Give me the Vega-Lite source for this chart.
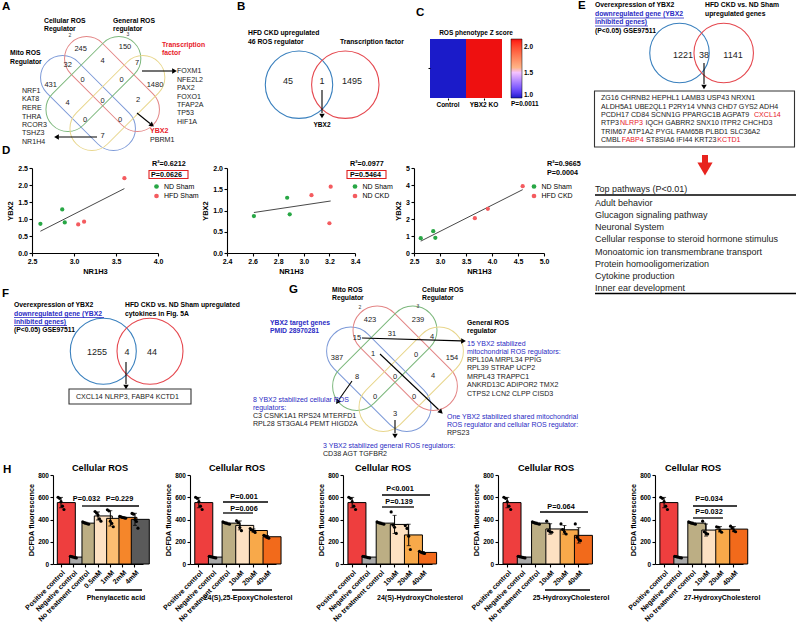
{
"$schema":"https://vega.github.io/schema/vega-lite/v6.json",
"width":796,"height":623,"autosize":{"type":"none"},"padding":0,"background":"white",
"config":{"view":{"stroke":null},"font":"Liberation Sans",
"axis":{"grid":false,"domainColor":"#000","tickColor":"#000","labelColor":"#000","titleColor":"#000","labelFont":"Liberation Sans","titleFont":"Liberation Sans","labelFontWeight":"bold","titleFontWeight":"bold","domainWidth":1.1,"tickWidth":1.1,"tickSize":3,"labelPadding":1.5,"titlePadding":3,"labelFontSize":7,"titleFontSize":7.5,"labelFlush":false,"labelOverlap":false},
"legend":{"labelFont":"Liberation Sans"}},
"datasets":{
"txt":[
{"k":"panel","x":2,"y":7,"t":"A"},{"k":"panel","x":237,"y":7,"t":"B"},{"k":"panel","x":416,"y":13,"t":"C"},{"k":"panel","x":2,"y":151,"t":"D"},{"k":"panel","x":578,"y":6,"t":"E"},{"k":"panel","x":2,"y":294,"t":"F"},{"k":"panel","x":289,"y":290,"t":"G"},{"k":"panel","x":3,"y":470,"t":"H"},
{"k":"hd","x":44,"y":21,"t":"Cellular ROS"},{"k":"hd","x":44,"y":29,"t":"Regulator"},{"k":"hd","x":113,"y":21,"t":"General ROS"},{"k":"hd","x":113,"y":29,"t":"regulator"},{"k":"hd","x":10,"y":53,"t":"Mito ROS"},{"k":"hd","x":10,"y":62,"t":"Regulator"},
{"k":"hd","x":248,"y":33,"t":"HFD CKD upregulated"},{"k":"hd","x":248,"y":42,"t":"46 ROS regulator"},{"k":"hd","x":340,"y":42,"t":"Transcription factor"},
{"k":"hd","x":595,"y":5,"t":"Overexpression of YBX2"},{"k":"hd","x":595,"y":31,"t":"(P<0.05) GSE97511"},{"k":"hd","x":705,"y":5,"t":"HFD CKD vs. ND Sham"},{"k":"hd","x":705,"y":14,"t":"upregulated genes"},
{"k":"hd","x":14,"y":305,"t":"Overexpression of YBX2"},{"k":"hd","x":14,"y":330,"t":"(P<0.05) GSE97511"},{"k":"hd","x":125,"y":305,"t":"HFD CKD vs. ND Sham upregulated"},{"k":"hd","x":125,"y":313.5,"t":"cytokines in Fig. 5A"},
{"k":"hd","x":332,"y":290,"t":"Mito ROS"},{"k":"hd","x":332,"y":298,"t":"Regulator"},{"k":"hd","x":422,"y":290,"t":"Cellular ROS"},{"k":"hd","x":422,"y":298,"t":"Regulator"},{"k":"hd","x":467,"y":323,"t":"General ROS"},{"k":"hd","x":467,"y":331,"t":"regulator"},
{"k":"hdred","x":162,"y":45,"t":"Transcription"},{"k":"hdred","x":162,"y":53,"t":"factor"},
{"k":"hdblue","x":595,"y":14,"t":"downregulated gene (YBX2"},{"k":"hdblue","x":595,"y":22,"t":"inhibited genes)"},{"k":"hdblue","x":14,"y":313.5,"t":"downregulated gene (YBX2"},{"k":"hdblue","x":14,"y":321.5,"t":"inhibited genes)"},{"k":"hdblue","x":270,"y":323,"t":"YBX2 target genes"},{"k":"hdblue","x":270,"y":331,"t":"PMID 28970281"},
{"k":"small","x":70,"y":35,"t":"2"},{"k":"small","x":128,"y":34,"t":"3"},{"k":"small","x":360,"y":307,"t":"2"},{"k":"small","x":418,"y":306,"t":"3"},
{"k":"num8","x":80.7,"y":48.7,"t":"245"},{"k":"num8","x":125,"y":47,"t":"150"},{"k":"num8","x":67.7,"y":65,"t":"32"},{"k":"num8","x":102.7,"y":61,"t":"4"},{"k":"num8","x":137,"y":63,"t":"7"},{"k":"num8","x":50.7,"y":84.7,"t":"431"},{"k":"num8","x":82.7,"y":79.7,"t":"0"},{"k":"num8","x":121.7,"y":79.7,"t":"0"},{"k":"num8","x":155,"y":84.7,"t":"1480"},{"k":"num8","x":67.7,"y":103,"t":"4"},{"k":"num8","x":102.7,"y":101,"t":"0"},{"k":"num8","x":138,"y":99.7,"t":"2"},{"k":"num8","x":85,"y":119.7,"t":"0"},{"k":"num8","x":120,"y":119.7,"t":"0"},{"k":"num8","x":102.7,"y":136,"t":"7"},
{"k":"num8","x":370,"y":320,"t":"423"},{"k":"num8","x":418,"y":320,"t":"239"},{"k":"num8","x":357,"y":337.5,"t":"15"},{"k":"num8","x":392,"y":334,"t":"31"},{"k":"num8","x":432,"y":337,"t":"4"},{"k":"num8","x":337,"y":358,"t":"387"},{"k":"num8","x":373,"y":354,"t":"1"},{"k":"num8","x":416,"y":355,"t":"0"},{"k":"num8","x":452,"y":358,"t":"154"},{"k":"num8","x":357,"y":377,"t":"8"},{"k":"num8","x":395,"y":377,"t":"0"},{"k":"num8","x":433,"y":376,"t":"4"},{"k":"num8","x":375,"y":397,"t":"0"},{"k":"num8","x":414,"y":397,"t":"0"},{"k":"num8","x":395,"y":414,"t":"3"},
{"k":"num9","x":288,"y":81,"t":"45"},{"k":"num9","x":322,"y":81,"t":"1"},{"k":"num9","x":352,"y":81,"t":"1495"},{"k":"num9","x":683,"y":55,"t":"1221"},{"k":"num9","x":704,"y":55,"t":"38"},{"k":"num9","x":733,"y":55,"t":"1141"},{"k":"num9","x":97,"y":352,"t":"1255"},{"k":"num9","x":127,"y":352,"t":"4"},{"k":"num9","x":152,"y":352,"t":"44"},
{"k":"list","x":177,"y":71,"t":"FOXM1"},{"k":"list","x":177,"y":80,"t":"NFE2L2"},{"k":"list","x":177,"y":88,"t":"PAX2"},{"k":"list","x":177,"y":97,"t":"FOXO1"},{"k":"list","x":177,"y":105,"t":"TFAP2A"},{"k":"list","x":177,"y":113,"t":"TP53"},{"k":"list","x":177,"y":122,"t":"HIF1A"},
{"k":"list","x":22,"y":91,"t":"NRF1"},{"k":"list","x":22,"y":99,"t":"KAT8"},{"k":"list","x":22,"y":108,"t":"RERE"},{"k":"list","x":22,"y":116.5,"t":"THRA"},{"k":"list","x":22,"y":125,"t":"RCOR3"},{"k":"list","x":22,"y":133,"t":"TSHZ3"},{"k":"list","x":22,"y":141.5,"t":"NR1H4"},
{"k":"list","x":150,"y":140,"t":"PBRM1"},
{"k":"list","x":601,"y":98.3,"t":"ZG16 CHRNB2 HEPHL1 LAMB3 USP43 NRXN1"},{"k":"list","x":601,"y":106.7,"t":"ALDH5A1 UBE2QL1 P2RY14 VNN3 CHD7 GYS2 ADH4"},{"k":"list","x":601,"y":115,"t":"PCDH17 CD84 SCNN1G PPARGC1B AGPAT9"},{"k":"list","x":601,"y":123.3,"t":"RTP3"},{"k":"list","x":645.5,"y":123.3,"t":"IQCH GABRR2 SNX10 ITPR2 CHCHD3"},{"k":"list","x":601,"y":131.7,"t":"TRIM67 ATP1A2 PYGL FAM65B PLBD1 SLC36A2"},{"k":"list","x":601,"y":140,"t":"CMBL"},{"k":"list","x":646,"y":140,"t":"ST8SIA6 IFI44 KRT23"},
{"k":"list","x":76,"y":397,"t":"CXCL14 NLRP3, FABP4 KCTD1"},
{"k":"list","x":467,"y":360,"t":"RPL10A MRPL34 PPIG"},{"k":"list","x":467,"y":368,"t":"RPL39 STRAP UCP2"},{"k":"list","x":467,"y":376.5,"t":"MRPL43 TRAPPC1"},{"k":"list","x":467,"y":385,"t":"ANKRD13C ADIPOR2 TMX2"},{"k":"list","x":467,"y":393.5,"t":"CTPS2 LCN2 CLPP CISD3"},{"k":"list","x":447,"y":433,"t":"RPS23"},{"k":"list","x":253,"y":416,"t":"C3 CSNK1A1 RPS24 MTERFD1"},{"k":"list","x":253,"y":424,"t":"RPL28 ST3GAL4 PEMT HIGD2A"},{"k":"list","x":323,"y":453.5,"t":"CD38 AGT TGFBR2"},
{"k":"listred","x":754,"y":115,"t":"CXCL14"},{"k":"listred","x":620,"y":123.3,"t":"NLRP3"},{"k":"listred","x":621.7,"y":140,"t":"FABP4"},{"k":"listred","x":717.3,"y":140,"t":"KCTD1"},
{"k":"ybxred","x":150,"y":131,"t":"YBX2"},{"k":"ybxc","x":322,"y":125,"t":"YBX2"},
{"k":"note","x":467,"y":344,"t":"15 YBX2 stabilized"},{"k":"note","x":467,"y":352,"t":"mitochondrial ROS regulators:"},{"k":"note","x":447,"y":417,"t":"One YBX2 stabilized shared mitochondrial"},{"k":"note","x":447,"y":425,"t":"ROS regulator and cellular ROS regulator:"},{"k":"note","x":253,"y":399.5,"t":"8 YBX2 stabilized cellular ROS"},{"k":"note","x":253,"y":408,"t":"regulators:"},{"k":"note","x":323,"y":446,"t":"3 YBX2 stabilized general ROS regulators:"},
{"k":"path","x":595,"y":188.5,"t":"Top pathways (P<0.01)"},{"k":"path","x":595,"y":202.5,"t":"Adult behavior"},{"k":"path","x":595,"y":214.8,"t":"Glucagon signaling pathway"},{"k":"path","x":595,"y":227.1,"t":"Neuronal System"},{"k":"path","x":595,"y":239.4,"t":"Cellular response to steroid hormone stimulus"},{"k":"path","x":595,"y":251.7,"t":"Monoatomic ion transmembrane transport"},{"k":"path","x":595,"y":264,"t":"Protein homooligomerization"},{"k":"path","x":595,"y":276.3,"t":"Cytokine production"},{"k":"path","x":595,"y":288.4,"t":"Inner ear development"},
{"k":"stat","x":152,"y":164,"t":"R²=0.6212"},{"k":"stat","x":151,"y":174.5,"t":"P=0.0626"},{"k":"stat","x":350,"y":164,"t":"R²=0.0977"},{"k":"stat","x":350,"y":174.5,"t":"P=0.5464"},{"k":"stat","x":547,"y":164,"t":"R²=0.9665"},{"k":"stat","x":547,"y":173,"t":"P=0.0004"},
{"k":"ctitle","x":476,"y":33,"t":"ROS phenotype Z score"},{"k":"cp","x":511,"y":104,"t":"P=0.0011"},
{"k":"htitle","x":100,"y":468,"t":"Cellular ROS"},{"k":"htitle","x":237,"y":468,"t":"Cellular ROS"},{"k":"htitle","x":383,"y":468,"t":"Cellular ROS"},{"k":"htitle","x":546,"y":468,"t":"Cellular ROS"},{"k":"htitle","x":693,"y":468,"t":"Cellular ROS"},
{"k":"hlab","x":116,"y":597.5,"t":"Phenylacetic acid"},{"k":"hlab","x":248,"y":597.5,"t":"24(S),25-EpoxyCholesterol"},{"k":"hlab","x":420,"y":597.5,"t":"24(S)-HydroxyCholesterol"},{"k":"hlab","x":571,"y":597.5,"t":"25-HydroxyCholesterol"},{"k":"hlab","x":722,"y":597.5,"t":"27-HydroxyCholesterol"},
{"k":"pval","x":86.5,"y":498.5,"t":"P=0.032"},{"k":"pval","x":119.5,"y":498.5,"t":"P=0.229"},{"k":"pval","x":244,"y":497,"t":"P=0.001"},{"k":"pval","x":244,"y":509,"t":"P=0.006"},{"k":"pval","x":400,"y":489,"t":"P<0.001"},{"k":"pval","x":399,"y":501.5,"t":"P=0.139"},{"k":"pval","x":561,"y":507,"t":"P=0.064"},{"k":"pval","x":709,"y":499,"t":"P=0.034"},{"k":"pval","x":709,"y":511.5,"t":"P=0.032"}
],
"lines":[
{"k":"arrow","x":142,"y":71,"x2":172,"y2":71},{"k":"arrow","x":137,"y":113,"x2":150,"y2":123.5},{"k":"arrow","x":97,"y":137,"x2":59,"y2":137},{"k":"arrow","x":322,"y":90,"x2":322,"y2":113},{"k":"arrow","x":704,"y":63,"x2":704,"y2":84},{"k":"arrow","x":126,"y":362,"x2":126,"y2":384},{"k":"arrow","x":362,"y":338,"x2":461,"y2":340.9},{"k":"arrow","x":380,"y":354,"x2":438.5,"y2":409.5},{"k":"arrow","x":352,"y":381,"x2":339,"y2":399.5},{"k":"arrow","x":395,"y":420,"x2":395,"y2":433},
{"k":"pl","x":595,"y":195,"x2":796,"y2":195},{"k":"pl","x":595,"y":293.5,"x2":796,"y2":293.5},
{"k":"pl","x":82,"y":506,"x2":100,"y2":506},{"k":"pl","x":100,"y":506,"x2":139,"y2":506},{"k":"pl","x":223,"y":502,"x2":268,"y2":502},{"k":"pl","x":223,"y":513,"x2":253,"y2":513},{"k":"pl","x":382,"y":495,"x2":430,"y2":495},{"k":"pl","x":382,"y":507,"x2":414,"y2":507},{"k":"pl","x":540,"y":512,"x2":588,"y2":512},{"k":"pl","x":693,"y":506,"x2":737,"y2":506},{"k":"pl","x":693,"y":518,"x2":723,"y2":518},
{"k":"pl","x":95,"y":590,"x2":142,"y2":590},{"k":"pl","x":232,"y":590,"x2":272,"y2":590},{"k":"pl","x":387,"y":590,"x2":432,"y2":590},{"k":"pl","x":545,"y":590,"x2":590,"y2":590},{"k":"pl","x":693,"y":590,"x2":740,"y2":590},
{"k":"ul","x":595,"y":18,"x2":684,"y2":18},{"k":"ul","x":595,"y":26,"x2":648,"y2":26},{"k":"ul","x":14,"y":317.5,"x2":104,"y2":317.5},{"k":"ul","x":14,"y":325.5,"x2":67,"y2":325.5},
{"k":"red","x":705,"y":155,"x2":705,"y2":165}
],
"heads":[
{"d":"r","x":174.5,"y":71},{"d":"l","x":56.5,"y":137},{"d":"dr","x":152,"y":125},{"d":"d","x":322,"y":116},{"d":"d","x":704,"y":87},{"d":"d","x":126,"y":387},{"d":"d","x":395,"y":436},{"d":"g1","x":463.5,"y":341},{"d":"g2","x":441,"y":412},{"d":"dl","x":337.5,"y":402},{"d":"big","x":705,"y":169}
],
"boxes":[
{"k":"blk","x":594.5,"y":91,"x2":794.5,"y2":147},{"k":"blk","x":69,"y":389,"x2":191,"y2":404},{"k":"red","x":149,"y":170.5,"x2":188,"y2":178.5},{"k":"red","x":347,"y":170.5,"x2":386,"y2":178.5}
],
"venn4":[
{"panel":"A","set":"s1","x":88,"y":103},{"panel":"A","set":"s2","x":112,"y":84},{"panel":"A","set":"s3","x":93.4,"y":84},{"panel":"A","set":"s4","x":117.4,"y":103},
{"panel":"G","set":"s1","x":378.8,"y":379.2},{"panel":"G","set":"s2","x":405.2,"y":358.3},{"panel":"G","set":"s3","x":384.8,"y":358.3},{"panel":"G","set":"s4","x":411.2,"y":379.2}
],
"venn2":[
{"panel":"B","set":"blue","x":299,"y":84.7},{"panel":"B","set":"red","x":345.3,"y":84.7},{"panel":"E","set":"blue","x":679.5,"y":53},{"panel":"E","set":"red","x":723.7,"y":53},{"panel":"F","set":"blue","x":103.3,"y":351.3},{"panel":"F","set":"red","x":150,"y":351.3}
],
"dpts":[
{"p":"d1","grp":"ND Sham","nr1h3":2.6,"ybx2":0.86},{"p":"d1","grp":"ND Sham","nr1h3":2.86,"ybx2":1.28},{"p":"d1","grp":"ND Sham","nr1h3":2.89,"ybx2":0.9},{"p":"d1","grp":"HFD Sham","nr1h3":3.05,"ybx2":0.84},{"p":"d1","grp":"HFD Sham","nr1h3":3.12,"ybx2":0.92},{"p":"d1","grp":"HFD Sham","nr1h3":3.6,"ybx2":2.2},
{"p":"d2","grp":"ND Sham","nr1h3":2.61,"ybx2":0.87},{"p":"d2","grp":"ND Sham","nr1h3":2.87,"ybx2":1.3},{"p":"d2","grp":"ND Sham","nr1h3":2.89,"ybx2":0.91},{"p":"d2","grp":"ND CKD","nr1h3":3.06,"ybx2":1.36},{"p":"d2","grp":"ND CKD","nr1h3":3.21,"ybx2":1.56},{"p":"d2","grp":"ND CKD","nr1h3":3.2,"ybx2":0.7},
{"p":"d3","grp":"ND Sham","nr1h3":2.63,"ybx2":0.87},{"p":"d3","grp":"ND Sham","nr1h3":2.87,"ybx2":1.28},{"p":"d3","grp":"ND Sham","nr1h3":2.91,"ybx2":0.89},{"p":"d3","grp":"HFD CKD","nr1h3":3.67,"ybx2":2.05},{"p":"d3","grp":"HFD CKD","nr1h3":3.92,"ybx2":2.6},{"p":"d3","grp":"HFD CKD","nr1h3":4.59,"ybx2":3.93}
],
"heat":[{"cond":"Control","row":"ROS phenotype","z":1.0},{"cond":"YBX2 KO","row":"ROS phenotype","z":2.16}],
"hdata":[
{"c":"c1","g":"Positive control","r":1,"v":600},{"c":"c1","g":"Positive control","r":2,"v":590},{"c":"c1","g":"Positive control","r":3,"v":560},{"c":"c1","g":"Positive control","r":4,"v":520},{"c":"c1","g":"Positive control","r":5,"v":490},
{"c":"c1","g":"Negative control","r":1,"v":70},{"c":"c1","g":"Negative control","r":2,"v":66},{"c":"c1","g":"Negative control","r":3,"v":62},{"c":"c1","g":"Negative control","r":4,"v":58},{"c":"c1","g":"Negative control","r":5,"v":55},
{"c":"c1","g":"No treatment control","r":1,"v":378},{"c":"c1","g":"No treatment control","r":2,"v":372},{"c":"c1","g":"No treatment control","r":3,"v":367},{"c":"c1","g":"No treatment control","r":4,"v":362},{"c":"c1","g":"No treatment control","r":5,"v":358},
{"c":"c1","g":"0.5mM","r":1,"v":472},{"c":"c1","g":"0.5mM","r":2,"v":458},{"c":"c1","g":"0.5mM","r":3,"v":440},{"c":"c1","g":"0.5mM","r":4,"v":405},{"c":"c1","g":"0.5mM","r":5,"v":385},
{"c":"c1","g":"1mM","r":1,"v":488},{"c":"c1","g":"1mM","r":2,"v":478},{"c":"c1","g":"1mM","r":3,"v":385},{"c":"c1","g":"1mM","r":4,"v":365},{"c":"c1","g":"1mM","r":5,"v":335},
{"c":"c1","g":"2mM","r":1,"v":428},{"c":"c1","g":"2mM","r":2,"v":423},{"c":"c1","g":"2mM","r":3,"v":418},{"c":"c1","g":"2mM","r":4,"v":415},{"c":"c1","g":"2mM","r":5,"v":412},
{"c":"c1","g":"4mM","r":1,"v":455},{"c":"c1","g":"4mM","r":2,"v":448},{"c":"c1","g":"4mM","r":3,"v":400},{"c":"c1","g":"4mM","r":4,"v":382},{"c":"c1","g":"4mM","r":5,"v":322},
{"c":"c2","g":"Positive control","r":1,"v":600},{"c":"c2","g":"Positive control","r":2,"v":590},{"c":"c2","g":"Positive control","r":3,"v":560},{"c":"c2","g":"Positive control","r":4,"v":520},{"c":"c2","g":"Positive control","r":5,"v":490},
{"c":"c2","g":"Negative control","r":1,"v":70},{"c":"c2","g":"Negative control","r":2,"v":66},{"c":"c2","g":"Negative control","r":3,"v":62},{"c":"c2","g":"Negative control","r":4,"v":58},{"c":"c2","g":"Negative control","r":5,"v":55},
{"c":"c2","g":"No treatment control","r":1,"v":378},{"c":"c2","g":"No treatment control","r":2,"v":372},{"c":"c2","g":"No treatment control","r":3,"v":367},{"c":"c2","g":"No treatment control","r":4,"v":362},{"c":"c2","g":"No treatment control","r":5,"v":358},
{"c":"c2","g":"10uM","r":1,"v":388},{"c":"c2","g":"10uM","r":2,"v":372},{"c":"c2","g":"10uM","r":3,"v":328},{"c":"c2","g":"10uM","r":4,"v":300},
{"c":"c2","g":"20uM","r":1,"v":318},{"c":"c2","g":"20uM","r":2,"v":306},{"c":"c2","g":"20uM","r":3,"v":296},{"c":"c2","g":"20uM","r":4,"v":284},
{"c":"c2","g":"40uM","r":1,"v":258},{"c":"c2","g":"40uM","r":2,"v":250},{"c":"c2","g":"40uM","r":3,"v":240},{"c":"c2","g":"40uM","r":4,"v":232},
{"c":"c3","g":"Positive control","r":1,"v":600},{"c":"c3","g":"Positive control","r":2,"v":590},{"c":"c3","g":"Positive control","r":3,"v":560},{"c":"c3","g":"Positive control","r":4,"v":520},{"c":"c3","g":"Positive control","r":5,"v":490},
{"c":"c3","g":"Negative control","r":1,"v":70},{"c":"c3","g":"Negative control","r":2,"v":66},{"c":"c3","g":"Negative control","r":3,"v":62},{"c":"c3","g":"Negative control","r":4,"v":58},{"c":"c3","g":"Negative control","r":5,"v":55},
{"c":"c3","g":"No treatment control","r":1,"v":378},{"c":"c3","g":"No treatment control","r":2,"v":372},{"c":"c3","g":"No treatment control","r":3,"v":367},{"c":"c3","g":"No treatment control","r":4,"v":362},{"c":"c3","g":"No treatment control","r":5,"v":358},
{"c":"c3","g":"10uM","r":1,"v":468},{"c":"c3","g":"10uM","r":2,"v":350},{"c":"c3","g":"10uM","r":3,"v":330},{"c":"c3","g":"10uM","r":4,"v":275},
{"c":"c3","g":"20uM","r":1,"v":345},{"c":"c3","g":"20uM","r":2,"v":320},{"c":"c3","g":"20uM","r":3,"v":250},{"c":"c3","g":"20uM","r":4,"v":130},
{"c":"c3","g":"40uM","r":1,"v":115},{"c":"c3","g":"40uM","r":2,"v":106},{"c":"c3","g":"40uM","r":3,"v":100},{"c":"c3","g":"40uM","r":4,"v":95},
{"c":"c4","g":"Positive control","r":1,"v":600},{"c":"c4","g":"Positive control","r":2,"v":590},{"c":"c4","g":"Positive control","r":3,"v":560},{"c":"c4","g":"Positive control","r":4,"v":520},{"c":"c4","g":"Positive control","r":5,"v":490},
{"c":"c4","g":"Negative control","r":1,"v":70},{"c":"c4","g":"Negative control","r":2,"v":66},{"c":"c4","g":"Negative control","r":3,"v":62},{"c":"c4","g":"Negative control","r":4,"v":58},{"c":"c4","g":"Negative control","r":5,"v":55},
{"c":"c4","g":"No treatment control","r":1,"v":378},{"c":"c4","g":"No treatment control","r":2,"v":372},{"c":"c4","g":"No treatment control","r":3,"v":367},{"c":"c4","g":"No treatment control","r":4,"v":362},{"c":"c4","g":"No treatment control","r":5,"v":358},
{"c":"c4","g":"10uM","r":1,"v":385},{"c":"c4","g":"10uM","r":2,"v":300},{"c":"c4","g":"10uM","r":3,"v":290},{"c":"c4","g":"10uM","r":4,"v":285},
{"c":"c4","g":"20uM","r":1,"v":360},{"c":"c4","g":"20uM","r":2,"v":310},{"c":"c4","g":"20uM","r":3,"v":290},{"c":"c4","g":"20uM","r":4,"v":270},
{"c":"c4","g":"40uM","r":1,"v":360},{"c":"c4","g":"40uM","r":2,"v":240},{"c":"c4","g":"40uM","r":3,"v":220},{"c":"c4","g":"40uM","r":4,"v":210},
{"c":"c5","g":"Positive control","r":1,"v":600},{"c":"c5","g":"Positive control","r":2,"v":590},{"c":"c5","g":"Positive control","r":3,"v":560},{"c":"c5","g":"Positive control","r":4,"v":520},{"c":"c5","g":"Positive control","r":5,"v":490},
{"c":"c5","g":"Negative control","r":1,"v":70},{"c":"c5","g":"Negative control","r":2,"v":66},{"c":"c5","g":"Negative control","r":3,"v":62},{"c":"c5","g":"Negative control","r":4,"v":58},{"c":"c5","g":"Negative control","r":5,"v":55},
{"c":"c5","g":"No treatment control","r":1,"v":378},{"c":"c5","g":"No treatment control","r":2,"v":372},{"c":"c5","g":"No treatment control","r":3,"v":367},{"c":"c5","g":"No treatment control","r":4,"v":362},{"c":"c5","g":"No treatment control","r":5,"v":358},
{"c":"c5","g":"10uM","r":1,"v":385},{"c":"c5","g":"10uM","r":2,"v":290},{"c":"c5","g":"10uM","r":3,"v":275},{"c":"c5","g":"10uM","r":4,"v":270},
{"c":"c5","g":"20uM","r":1,"v":335},{"c":"c5","g":"20uM","r":2,"v":330},{"c":"c5","g":"20uM","r":3,"v":300},{"c":"c5","g":"20uM","r":4,"v":285},
{"c":"c5","g":"40uM","r":1,"v":340},{"c":"c5","g":"40uM","r":2,"v":325},{"c":"c5","g":"40uM","r":3,"v":300},{"c":"c5","g":"40uM","r":4,"v":290}
]
},
"resolve":{"scale":{"x":"independent","y":"independent","color":"independent","xOffset":"independent"},"axis":{"x":"independent","y":"independent"},"legend":{"color":"independent"}},
"layer":[
{
"encoding":{"x":{"field":"x","type":"quantitative","scale":{"domain":[0,796],"range":[0,796],"nice":false,"zero":false},"axis":null},"y":{"field":"y","type":"quantitative","scale":{"domain":[0,623],"range":[0,623],"nice":false,"zero":false},"axis":null}},
"layer":[
{"data":{"name":"venn4"},"transform":[{"filter":"datum.panel=='A' && datum.set=='s1'"}],"mark":{"type":"point","shape":"M -36 -22 L 36 -22 A 22 22 0 0 1 36 22 L -36 22 A 22 22 0 0 1 -36 -22 Z","size":4,"angle":45,"filled":false,"stroke":"#7D9AD8","strokeWidth":1,"opacity":1}},
{"data":{"name":"venn4"},"transform":[{"filter":"datum.panel=='A' && datum.set=='s2'"}],"mark":{"type":"point","shape":"M -36 -22 L 36 -22 A 22 22 0 0 1 36 22 L -36 22 A 22 22 0 0 1 -36 -22 Z","size":4,"angle":45,"filled":false,"stroke":"#E38585","strokeWidth":1,"opacity":1}},
{"data":{"name":"venn4"},"transform":[{"filter":"datum.panel=='A' && datum.set=='s3'"}],"mark":{"type":"point","shape":"M -36 -22 L 36 -22 A 22 22 0 0 1 36 22 L -36 22 A 22 22 0 0 1 -36 -22 Z","size":4,"angle":-45,"filled":false,"stroke":"#7DB87D","strokeWidth":1,"opacity":1}},
{"data":{"name":"venn4"},"transform":[{"filter":"datum.panel=='A' && datum.set=='s4'"}],"mark":{"type":"point","shape":"M -36 -22 L 36 -22 A 22 22 0 0 1 36 22 L -36 22 A 22 22 0 0 1 -36 -22 Z","size":4,"angle":-45,"filled":false,"stroke":"#E8D68C","strokeWidth":1,"opacity":1}},
{"data":{"name":"venn4"},"transform":[{"filter":"datum.panel=='G' && datum.set=='s1'"}],"mark":{"type":"point","shape":"M -36 -22 L 36 -22 A 22 22 0 0 1 36 22 L -36 22 A 22 22 0 0 1 -36 -22 Z","size":4.84,"angle":45,"filled":false,"stroke":"#7D9AD8","strokeWidth":1,"opacity":1}},
{"data":{"name":"venn4"},"transform":[{"filter":"datum.panel=='G' && datum.set=='s2'"}],"mark":{"type":"point","shape":"M -36 -22 L 36 -22 A 22 22 0 0 1 36 22 L -36 22 A 22 22 0 0 1 -36 -22 Z","size":4.84,"angle":45,"filled":false,"stroke":"#E38585","strokeWidth":1,"opacity":1}},
{"data":{"name":"venn4"},"transform":[{"filter":"datum.panel=='G' && datum.set=='s3'"}],"mark":{"type":"point","shape":"M -36 -22 L 36 -22 A 22 22 0 0 1 36 22 L -36 22 A 22 22 0 0 1 -36 -22 Z","size":4.84,"angle":-45,"filled":false,"stroke":"#7DB87D","strokeWidth":1,"opacity":1}},
{"data":{"name":"venn4"},"transform":[{"filter":"datum.panel=='G' && datum.set=='s4'"}],"mark":{"type":"point","shape":"M -36 -22 L 36 -22 A 22 22 0 0 1 36 22 L -36 22 A 22 22 0 0 1 -36 -22 Z","size":4.84,"angle":-45,"filled":false,"stroke":"#E8D68C","strokeWidth":1,"opacity":1}},
{"data":{"name":"venn2"},"transform":[{"filter":"datum.panel=='B'"}],"mark":{"type":"point","shape":"circle","size":4543,"filled":false,"strokeWidth":1.1,"opacity":1},"encoding":{"stroke":{"field":"set","type":"nominal","scale":{"domain":["blue","red"],"range":["#3A80BE","#E5484F"]},"legend":null}}},
{"data":{"name":"venn2"},"transform":[{"filter":"datum.panel=='E'"}],"mark":{"type":"point","shape":"circle","size":3540,"filled":false,"strokeWidth":1.1,"opacity":1},"encoding":{"stroke":{"field":"set","type":"nominal","scale":{"domain":["blue","red"],"range":["#3A80BE","#E5484F"]},"legend":null}}},
{"data":{"name":"venn2"},"transform":[{"filter":"datum.panel=='F'"}],"mark":{"type":"point","shape":"circle","size":4356,"filled":false,"strokeWidth":1.1,"opacity":1},"encoding":{"stroke":{"field":"set","type":"nominal","scale":{"domain":["blue","red"],"range":["#3A80BE","#E5484F"]},"legend":null}}},
{"data":{"name":"boxes"},"transform":[{"filter":"datum.k=='blk'"}],"mark":{"type":"rect","fillOpacity":0,"stroke":"#333333","strokeWidth":1.1},"encoding":{"x2":{"field":"x2"},"y2":{"field":"y2"}}},
{"data":{"name":"boxes"},"transform":[{"filter":"datum.k=='red'"}],"mark":{"type":"rect","fillOpacity":0,"stroke":"#E02020","strokeWidth":1.1},"encoding":{"x2":{"field":"x2"},"y2":{"field":"y2"}}},
{"data":{"name":"lines"},"transform":[{"filter":"datum.k=='arrow'"}],"mark":{"type":"rule","color":"#000","strokeWidth":1.1},"encoding":{"x2":{"field":"x2"},"y2":{"field":"y2"}}},
{"data":{"name":"lines"},"transform":[{"filter":"datum.k=='pl'"}],"mark":{"type":"rule","color":"#000","strokeWidth":1.3},"encoding":{"x2":{"field":"x2"},"y2":{"field":"y2"}}},
{"data":{"name":"lines"},"transform":[{"filter":"datum.k=='ul'"}],"mark":{"type":"rule","color":"#2B2BC4","strokeWidth":0.8},"encoding":{"x2":{"field":"x2"},"y2":{"field":"y2"}}},
{"data":{"name":"lines"},"transform":[{"filter":"datum.k=='red'"}],"mark":{"type":"rule","color":"#E8231E","strokeWidth":6},"encoding":{"x2":{"field":"x2"},"y2":{"field":"y2"}}},
{"data":{"name":"heads"},"transform":[{"filter":"datum.d=='r'"}],"mark":{"type":"point","shape":"triangle-right","size":30,"filled":true,"color":"#000","opacity":1,"angle":0}},
{"data":{"name":"heads"},"transform":[{"filter":"datum.d=='l'"}],"mark":{"type":"point","shape":"triangle-right","size":30,"filled":true,"color":"#000","opacity":1,"angle":180}},
{"data":{"name":"heads"},"transform":[{"filter":"datum.d=='d'"}],"mark":{"type":"point","shape":"triangle-right","size":30,"filled":true,"color":"#000","opacity":1,"angle":90}},
{"data":{"name":"heads"},"transform":[{"filter":"datum.d=='dr'"}],"mark":{"type":"point","shape":"triangle-right","size":30,"filled":true,"color":"#000","opacity":1,"angle":39}},
{"data":{"name":"heads"},"transform":[{"filter":"datum.d=='g1'"}],"mark":{"type":"point","shape":"triangle-right","size":30,"filled":true,"color":"#000","opacity":1,"angle":2}},
{"data":{"name":"heads"},"transform":[{"filter":"datum.d=='g2'"}],"mark":{"type":"point","shape":"triangle-right","size":30,"filled":true,"color":"#000","opacity":1,"angle":43.5}},
{"data":{"name":"heads"},"transform":[{"filter":"datum.d=='dl'"}],"mark":{"type":"point","shape":"triangle-right","size":30,"filled":true,"color":"#000","opacity":1,"angle":125}},
{"data":{"name":"heads"},"transform":[{"filter":"datum.d=='big'"}],"mark":{"type":"point","shape":"triangle-down","size":230,"filled":true,"color":"#E8231E","opacity":1}},
{"data":{"name":"txt"},"transform":[{"filter":"datum.k=='panel'"}],"mark":{"type":"text","align":"left","baseline":"middle","fontSize":11.5,"fontWeight":"bold","color":"#000"},"encoding":{"text":{"field":"t"}}},
{"data":{"name":"txt"},"transform":[{"filter":"datum.k=='hd'"}],"mark":{"type":"text","align":"left","baseline":"middle","fontSize":6.8,"fontWeight":"bold","color":"#000"},"encoding":{"text":{"field":"t"}}},
{"data":{"name":"txt"},"transform":[{"filter":"datum.k=='hdred'"}],"mark":{"type":"text","align":"left","baseline":"middle","fontSize":6.8,"fontWeight":"bold","color":"#E8202A"},"encoding":{"text":{"field":"t"}}},
{"data":{"name":"txt"},"transform":[{"filter":"datum.k=='hdblue'"}],"mark":{"type":"text","align":"left","baseline":"middle","fontSize":6.8,"fontWeight":"bold","color":"#2B2BC4"},"encoding":{"text":{"field":"t"}}},
{"data":{"name":"txt"},"transform":[{"filter":"datum.k=='small'"}],"mark":{"type":"text","align":"center","baseline":"middle","fontSize":5,"color":"#333"},"encoding":{"text":{"field":"t"}}},
{"data":{"name":"txt"},"transform":[{"filter":"datum.k=='num8'"}],"mark":{"type":"text","align":"center","baseline":"middle","fontSize":7.5,"color":"#222"},"encoding":{"text":{"field":"t"}}},
{"data":{"name":"txt"},"transform":[{"filter":"datum.k=='num9'"}],"mark":{"type":"text","align":"center","baseline":"middle","fontSize":9,"color":"#222"},"encoding":{"text":{"field":"t"}}},
{"data":{"name":"txt"},"transform":[{"filter":"datum.k=='list'"}],"mark":{"type":"text","align":"left","baseline":"middle","fontSize":7.1,"color":"#222"},"encoding":{"text":{"field":"t"}}},
{"data":{"name":"txt"},"transform":[{"filter":"datum.k=='listred'"}],"mark":{"type":"text","align":"left","baseline":"middle","fontSize":7.1,"color":"#E8202A"},"encoding":{"text":{"field":"t"}}},
{"data":{"name":"txt"},"transform":[{"filter":"datum.k=='ybxred'"}],"mark":{"type":"text","align":"left","baseline":"middle","fontSize":7.1,"fontWeight":"bold","color":"#E8202A"},"encoding":{"text":{"field":"t"}}},
{"data":{"name":"txt"},"transform":[{"filter":"datum.k=='ybxc'"}],"mark":{"type":"text","align":"center","baseline":"middle","fontSize":6.5,"fontWeight":"bold","color":"#000"},"encoding":{"text":{"field":"t"}}},
{"data":{"name":"txt"},"transform":[{"filter":"datum.k=='note'"}],"mark":{"type":"text","align":"left","baseline":"middle","fontSize":7,"color":"#2B2BC4"},"encoding":{"text":{"field":"t"}}},
{"data":{"name":"txt"},"transform":[{"filter":"datum.k=='path'"}],"mark":{"type":"text","align":"left","baseline":"middle","fontSize":9,"color":"#222"},"encoding":{"text":{"field":"t"}}},
{"data":{"name":"txt"},"transform":[{"filter":"datum.k=='stat'"}],"mark":{"type":"text","align":"left","baseline":"middle","fontSize":7.2,"fontWeight":"bold","color":"#000"},"encoding":{"text":{"field":"t"}}},
{"data":{"name":"txt"},"transform":[{"filter":"datum.k=='ctitle'"}],"mark":{"type":"text","align":"center","baseline":"middle","fontSize":6.5,"fontWeight":"bold","color":"#000"},"encoding":{"text":{"field":"t"}}},
{"data":{"name":"txt"},"transform":[{"filter":"datum.k=='cp'"}],"mark":{"type":"text","align":"left","baseline":"middle","fontSize":6.5,"fontWeight":"bold","color":"#000"},"encoding":{"text":{"field":"t"}}},
{"data":{"name":"txt"},"transform":[{"filter":"datum.k=='htitle'"}],"mark":{"type":"text","align":"center","baseline":"middle","fontSize":9.2,"fontWeight":"bold","color":"#000"},"encoding":{"text":{"field":"t"}}},
{"data":{"name":"txt"},"transform":[{"filter":"datum.k=='hlab'"}],"mark":{"type":"text","align":"center","baseline":"middle","fontSize":7,"fontWeight":"bold","color":"#000"},"encoding":{"text":{"field":"t"}}},
{"data":{"name":"txt"},"transform":[{"filter":"datum.k=='pval'"}],"mark":{"type":"text","align":"center","baseline":"middle","fontSize":7.3,"fontWeight":"bold","color":"#000"},"encoding":{"text":{"field":"t"}}}
]
},
{
"data":{"name":"dpts"},"transform":[{"filter":"datum.p=='d1'"}],
"encoding":{"x":{"field":"nr1h3","type":"quantitative","title":"NR1H3","scale":{"domain":[2.5,4],"range":[32,158],"zero":false,"nice":false},"axis":{"orient":"bottom","offset":-370,"values":[2.5,3,3.5,4],"format":".1f"}},
"y":{"field":"ybx2","type":"quantitative","title":"YBX2","scale":{"domain":[0,2.5],"range":[253,168],"zero":false,"nice":false},"axis":{"orient":"left","offset":-32,"values":[0,0.5,1,1.5,2,2.5],"format":".1f"}}},
"layer":[
{"transform":[{"regression":"ybx2","on":"nr1h3"}],"mark":{"type":"line","color":"#333333","strokeWidth":0.9},"encoding":{}},
{"mark":{"type":"point","filled":true,"size":18,"opacity":1},"encoding":{"color":{"field":"grp","type":"nominal","scale":{"domain":["ND Sham","HFD Sham"],"range":["#28A745","#F45B5F"]},"legend":{"orient":"none","legendX":153,"legendY":183,"title":null,"labelFontSize":7,"symbolSize":22,"symbolType":"circle","rowPadding":1.5,"labelOffset":4,"padding":0}}}}
]
},
{
"data":{"name":"dpts"},"transform":[{"filter":"datum.p=='d2'"}],
"encoding":{"x":{"field":"nr1h3","type":"quantitative","title":"NR1H3","scale":{"domain":[2.4,3.4],"range":[227,355],"zero":false,"nice":false},"axis":{"orient":"bottom","offset":-370,"values":[2.4,2.6,2.8,3.0,3.2,3.4],"format":".1f"}},
"y":{"field":"ybx2","type":"quantitative","title":"YBX2","scale":{"domain":[0,2],"range":[253,168],"zero":false,"nice":false},"axis":{"orient":"left","offset":-227,"values":[0,0.5,1,1.5,2],"format":".1f"}}},
"layer":[
{"transform":[{"regression":"ybx2","on":"nr1h3"}],"mark":{"type":"line","color":"#333333","strokeWidth":0.9},"encoding":{}},
{"mark":{"type":"point","filled":true,"size":18,"opacity":1},"encoding":{"color":{"field":"grp","type":"nominal","scale":{"domain":["ND Sham","ND CKD"],"range":["#28A745","#F45B5F"]},"legend":{"orient":"none","legendX":351.5,"legendY":183,"title":null,"labelFontSize":7,"symbolSize":22,"symbolType":"circle","rowPadding":1.5,"labelOffset":4,"padding":0}}}}
]
},
{
"data":{"name":"dpts"},"transform":[{"filter":"datum.p=='d3'"}],
"encoding":{"x":{"field":"nr1h3","type":"quantitative","title":"NR1H3","scale":{"domain":[2.5,5],"range":[414,544],"zero":false,"nice":false},"axis":{"orient":"bottom","offset":-370,"values":[2.5,3,3.5,4,4.5,5],"format":".1f"}},
"y":{"field":"ybx2","type":"quantitative","title":"YBX2","scale":{"domain":[0,5],"range":[253,168],"zero":false,"nice":false},"axis":{"orient":"left","offset":-414,"values":[0,1,2,3,4,5],"format":"d"}}},
"layer":[
{"transform":[{"regression":"ybx2","on":"nr1h3"}],"mark":{"type":"line","color":"#333333","strokeWidth":0.9},"encoding":{}},
{"mark":{"type":"point","filled":true,"size":18,"opacity":1},"encoding":{"color":{"field":"grp","type":"nominal","scale":{"domain":["ND Sham","HFD CKD"],"range":["#28A745","#F45B5F"]},"legend":{"orient":"none","legendX":530.5,"legendY":183,"title":null,"labelFontSize":7,"symbolSize":22,"symbolType":"circle","rowPadding":1.5,"labelOffset":4,"padding":0}}}}
]
},
{
"data":{"name":"heat"},
"mark":{"type":"rect"},
"encoding":{
"x":{"field":"cond","type":"nominal","scale":{"domain":["Control","YBX2 KO"],"range":[430,502],"paddingInner":0,"paddingOuter":0},"axis":{"orient":"bottom","offset":-525,"title":null,"labelAngle":0,"labelFontSize":6.5,"domain":false,"tickSize":2}},
"y":{"field":"row","type":"nominal","scale":{"range":[39,98],"paddingInner":0,"paddingOuter":0},"axis":{"orient":"left","offset":-430,"title":null,"labels":false,"domain":false,"tickSize":2}},
"color":{"field":"z","type":"quantitative","scale":{"domain":[1,2.16],"domainMid":1.58,"range":["#1B1BC9","#FFFFFF","#EE1010"]},"legend":{"orient":"none","legendX":511,"legendY":39,"direction":"vertical","gradientLength":59,"gradientThickness":11,"title":null,"values":[1,1.5,2],"format":".1f","labelFontSize":6.5,"labelFontWeight":"bold","padding":0,"gradientStrokeColor":"#000","gradientStrokeWidth":0.5}}
}
},
{
"data":{"name":"hdata"},"transform":[{"filter":"datum.c=='c1'"}],
"encoding":{"x":{"field":"g","type":"nominal","title":null,"scale":{"domain":["Positive control","Negative control","No treatment control","0.5mM","1mM","2mM","4mM"],"range":[53,143],"paddingInner":0.4,"paddingOuter":0.35},"axis":{"orient":"bottom","offset":-59,"labelAngle":-45,"labelFontSize":7}}},
"layer":[
{"mark":{"type":"bar","stroke":"#000","strokeWidth":1},"encoding":{"y":{"aggregate":"mean","field":"v","type":"quantitative","title":"DCFDA fluorescence","scale":{"domain":[0,800],"range":[564,475],"nice":false},"axis":{"orient":"left","offset":-53,"values":[0,200,400,600,800],"labelFontSize":6.5,"titleFontSize":7.3,"titlePadding":2}},"color":{"field":"g","type":"nominal","scale":{"domain":["Positive control","Negative control","No treatment control","0.5mM","1mM","2mM","4mM"],"range":["#EE3E3E","#A9A9A9","#BCAE84","#FDE1C2","#FBBE72","#F5862A","#5A5A5A"]},"legend":null}}},
{"mark":{"type":"errorbar","extent":"stdev","ticks":{"size":4,"thickness":1,"color":"#000"},"color":"#000","thickness":1},"encoding":{"y":{"field":"v","type":"quantitative","title":"DCFDA fluorescence","scale":{"domain":[0,800],"range":[564,475],"nice":false}}}},
{"mark":{"type":"circle","color":"#000","size":10,"opacity":1},"encoding":{"y":{"field":"v","type":"quantitative","title":"DCFDA fluorescence","scale":{"domain":[0,800],"range":[564,475],"nice":false}},"xOffset":{"field":"r","type":"nominal"}}}
]
},
{
"data":{"name":"hdata"},"transform":[{"filter":"datum.c=='c2'"}],
"encoding":{"x":{"field":"g","type":"nominal","title":null,"scale":{"domain":["Positive control","Negative control","No treatment control","10uM","20uM","40uM"],"range":[190,276],"paddingInner":0.4,"paddingOuter":0.35},"axis":{"orient":"bottom","offset":-59,"labelAngle":-45,"labelFontSize":7}}},
"layer":[
{"mark":{"type":"bar","stroke":"#000","strokeWidth":1},"encoding":{"y":{"aggregate":"mean","field":"v","type":"quantitative","title":"DCFDA fluorescence","scale":{"domain":[0,800],"range":[564,475],"nice":false},"axis":{"orient":"left","offset":-190,"values":[0,200,400,600,800],"labelFontSize":6.5,"titleFontSize":7.3,"titlePadding":2}},"color":{"field":"g","type":"nominal","scale":{"domain":["Positive control","Negative control","No treatment control","10uM","20uM","40uM"],"range":["#EE3E3E","#A9A9A9","#BCAE84","#FDE1C2","#F8A94A","#F26A1B"]},"legend":null}}},
{"mark":{"type":"errorbar","extent":"stdev","ticks":{"size":4,"thickness":1,"color":"#000"},"color":"#000","thickness":1},"encoding":{"y":{"field":"v","type":"quantitative","title":"DCFDA fluorescence","scale":{"domain":[0,800],"range":[564,475],"nice":false}}}},
{"mark":{"type":"circle","color":"#000","size":10,"opacity":1},"encoding":{"y":{"field":"v","type":"quantitative","title":"DCFDA fluorescence","scale":{"domain":[0,800],"range":[564,475],"nice":false}},"xOffset":{"field":"r","type":"nominal"}}}
]
},
{
"data":{"name":"hdata"},"transform":[{"filter":"datum.c=='c3'"}],
"encoding":{"x":{"field":"g","type":"nominal","title":null,"scale":{"domain":["Positive control","Negative control","No treatment control","10uM","20uM","40uM"],"range":[343,432],"paddingInner":0.4,"paddingOuter":0.35},"axis":{"orient":"bottom","offset":-59,"labelAngle":-45,"labelFontSize":7}}},
"layer":[
{"mark":{"type":"bar","stroke":"#000","strokeWidth":1},"encoding":{"y":{"aggregate":"mean","field":"v","type":"quantitative","title":"DCFDA fluorescence","scale":{"domain":[0,800],"range":[564,475],"nice":false},"axis":{"orient":"left","offset":-343,"values":[0,200,400,600,800],"labelFontSize":6.5,"titleFontSize":7.3,"titlePadding":2}},"color":{"field":"g","type":"nominal","scale":{"domain":["Positive control","Negative control","No treatment control","10uM","20uM","40uM"],"range":["#EE3E3E","#A9A9A9","#BCAE84","#FDE1C2","#F8A94A","#F26A1B"]},"legend":null}}},
{"mark":{"type":"errorbar","extent":"stdev","ticks":{"size":4,"thickness":1,"color":"#000"},"color":"#000","thickness":1},"encoding":{"y":{"field":"v","type":"quantitative","title":"DCFDA fluorescence","scale":{"domain":[0,800],"range":[564,475],"nice":false}}}},
{"mark":{"type":"circle","color":"#000","size":10,"opacity":1},"encoding":{"y":{"field":"v","type":"quantitative","title":"DCFDA fluorescence","scale":{"domain":[0,800],"range":[564,475],"nice":false}},"xOffset":{"field":"r","type":"nominal"}}}
]
},
{
"data":{"name":"hdata"},"transform":[{"filter":"datum.c=='c4'"}],
"encoding":{"x":{"field":"g","type":"nominal","title":null,"scale":{"domain":["Positive control","Negative control","No treatment control","10uM","20uM","40uM"],"range":[498,588],"paddingInner":0.4,"paddingOuter":0.35},"axis":{"orient":"bottom","offset":-59,"labelAngle":-45,"labelFontSize":7}}},
"layer":[
{"mark":{"type":"bar","stroke":"#000","strokeWidth":1},"encoding":{"y":{"aggregate":"mean","field":"v","type":"quantitative","title":"DCFDA fluorescence","scale":{"domain":[0,800],"range":[564,475],"nice":false},"axis":{"orient":"left","offset":-498,"values":[0,200,400,600,800],"labelFontSize":6.5,"titleFontSize":7.3,"titlePadding":2}},"color":{"field":"g","type":"nominal","scale":{"domain":["Positive control","Negative control","No treatment control","10uM","20uM","40uM"],"range":["#EE3E3E","#A9A9A9","#BCAE84","#FDE1C2","#F8A94A","#F26A1B"]},"legend":null}}},
{"mark":{"type":"errorbar","extent":"stdev","ticks":{"size":4,"thickness":1,"color":"#000"},"color":"#000","thickness":1},"encoding":{"y":{"field":"v","type":"quantitative","title":"DCFDA fluorescence","scale":{"domain":[0,800],"range":[564,475],"nice":false}}}},
{"mark":{"type":"circle","color":"#000","size":10,"opacity":1},"encoding":{"y":{"field":"v","type":"quantitative","title":"DCFDA fluorescence","scale":{"domain":[0,800],"range":[564,475],"nice":false}},"xOffset":{"field":"r","type":"nominal"}}}
]
},
{
"data":{"name":"hdata"},"transform":[{"filter":"datum.c=='c5'"}],
"encoding":{"x":{"field":"g","type":"nominal","title":null,"scale":{"domain":["Positive control","Negative control","No treatment control","10uM","20uM","40uM"],"range":[655,743],"paddingInner":0.4,"paddingOuter":0.35},"axis":{"orient":"bottom","offset":-59,"labelAngle":-45,"labelFontSize":7}}},
"layer":[
{"mark":{"type":"bar","stroke":"#000","strokeWidth":1},"encoding":{"y":{"aggregate":"mean","field":"v","type":"quantitative","title":"DCFDA fluorescence","scale":{"domain":[0,800],"range":[564,475],"nice":false},"axis":{"orient":"left","offset":-655,"values":[0,200,400,600,800],"labelFontSize":6.5,"titleFontSize":7.3,"titlePadding":2}},"color":{"field":"g","type":"nominal","scale":{"domain":["Positive control","Negative control","No treatment control","10uM","20uM","40uM"],"range":["#EE3E3E","#A9A9A9","#BCAE84","#FDE1C2","#F8A94A","#F26A1B"]},"legend":null}}},
{"mark":{"type":"errorbar","extent":"stdev","ticks":{"size":4,"thickness":1,"color":"#000"},"color":"#000","thickness":1},"encoding":{"y":{"field":"v","type":"quantitative","title":"DCFDA fluorescence","scale":{"domain":[0,800],"range":[564,475],"nice":false}}}},
{"mark":{"type":"circle","color":"#000","size":10,"opacity":1},"encoding":{"y":{"field":"v","type":"quantitative","title":"DCFDA fluorescence","scale":{"domain":[0,800],"range":[564,475],"nice":false}},"xOffset":{"field":"r","type":"nominal"}}}
]
}
]
}
